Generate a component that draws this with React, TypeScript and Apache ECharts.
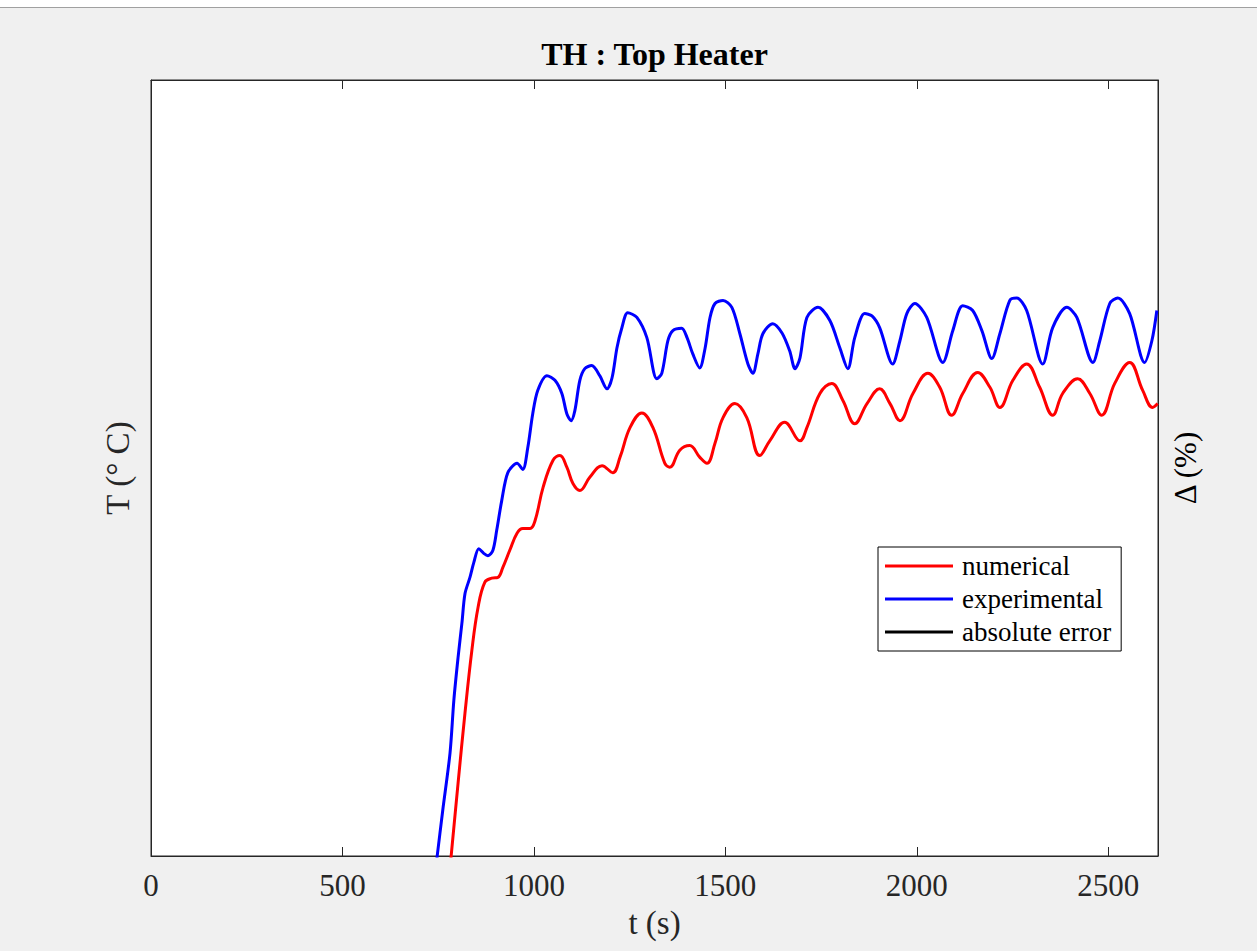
import React, { useEffect, useRef } from "react";
import * as echarts from "echarts";

const titleText = "TH : Top Heater";
const xTicks = { min: 0, max: 2630, interval: 500 };
const yRange = { min: 0, max: 100 };

const numerical: [number, number][] = [
  [782, -1], [802, 9.4], [820, 18.4], [838, 26.5], [854, 32.0], [872, 35.3], [890, 35.8], [906, 35.9],
  [919, 37.2], [937, 39.4], [956, 41.6], [971, 42.2], [990, 42.2], [1003, 43.2], [1024, 47.5], [1050, 51.0],
  [1068, 51.6], [1086, 50.1], [1102, 48.0], [1120, 47.1], [1146, 48.8], [1178, 50.3], [1206, 49.4], [1225, 51.4],
  [1251, 55.2], [1282, 57.1], [1311, 55.2], [1342, 50.6], [1355, 50.1], [1381, 52.3], [1407, 52.9], [1433, 51.4],
  [1452, 50.6], [1473, 53.2], [1494, 56.5], [1525, 58.3], [1556, 56.5], [1590, 51.6], [1616, 53.5], [1655, 55.9],
  [1695, 53.5], [1713, 55.2], [1747, 59.6], [1778, 60.9], [1807, 58.7], [1838, 55.7], [1870, 58.3], [1903, 60.2],
  [1930, 58.3], [1956, 56.1], [1990, 59.6], [2029, 62.2], [2060, 60.4], [2091, 56.8], [2120, 59.6], [2159, 62.3],
  [2191, 60.4], [2217, 57.8], [2251, 61.3], [2287, 63.4], [2321, 60.4], [2355, 56.8], [2381, 59.6], [2420, 61.5],
  [2452, 59.6], [2483, 56.8], [2517, 60.9], [2556, 63.6], [2590, 60.0], [2616, 57.8], [2629, 58.3],
];

const experimental: [number, number][] = [
  [745, -1], [762, 5.9], [781, 13.3], [791, 20.1], [802, 25.6], [812, 30.0], [820, 33.8], [833, 35.9],
  [843, 37.8], [856, 39.6], [869, 39.0], [880, 38.7], [893, 39.4], [903, 42.0], [916, 45.8], [932, 49.4],
  [956, 50.6], [971, 49.8], [984, 52.6], [997, 57.0], [1010, 60.0], [1034, 61.9], [1055, 61.3], [1073, 59.6],
  [1086, 57.0], [1097, 56.1], [1107, 57.4], [1120, 61.3], [1133, 62.8], [1151, 63.2], [1172, 61.9], [1191, 60.2],
  [1204, 61.6], [1217, 65.5], [1230, 68.1], [1245, 70.0], [1269, 69.4], [1295, 66.8], [1321, 61.5], [1334, 62.2],
  [1350, 66.4], [1363, 67.7], [1386, 68.0], [1400, 66.8], [1415, 64.7], [1433, 62.9], [1447, 65.4], [1460, 69.4],
  [1473, 71.2], [1494, 71.6], [1517, 70.7], [1538, 67.3], [1559, 63.4], [1572, 62.2], [1585, 64.7], [1598, 67.3],
  [1624, 68.6], [1648, 67.4], [1668, 65.1], [1682, 62.8], [1695, 64.2], [1713, 69.4], [1742, 70.7], [1773, 69.0],
  [1799, 65.5], [1820, 62.8], [1838, 66.8], [1864, 69.9], [1883, 69.6], [1903, 68.1], [1937, 63.4], [1956, 66.4],
  [1974, 69.9], [1995, 71.2], [2026, 69.4], [2068, 63.6], [2094, 67.7], [2120, 70.9], [2146, 70.3], [2170, 67.7],
  [2196, 64.1], [2217, 67.3], [2243, 71.6], [2261, 71.9], [2287, 70.3], [2329, 63.4], [2355, 68.1], [2392, 70.7],
  [2418, 69.4], [2460, 63.6], [2478, 66.4], [2504, 71.2], [2525, 71.9], [2556, 69.9], [2595, 63.6], [2614, 66.4],
  [2627, 70.3],
];

const absoluteError: [number, number][] = [];

const FONT = '"Liberation Serif", "DejaVu Serif", serif';
const AXIS_COLOR = "#262626";

export default function App() {
  const ref = useRef<HTMLDivElement>(null);
  useEffect(() => {
    if (!ref.current) return;
    const chart = echarts.init(ref.current, undefined, { renderer: "svg" });
    const axisLine = { show: true, onZero: false, lineStyle: { color: AXIS_COLOR, width: 1 } };
    chart.setOption({
      animation: false,
      backgroundColor: "transparent",
      textStyle: { fontFamily: FONT },
      grid: {
        left: 151, right: 99, top: 80, bottom: 95, containLabel: false,
        show: true, backgroundColor: "#ffffff", borderColor: AXIS_COLOR, borderWidth: 1,
      },
      graphic: [
        {
          type: "text",
          x: 654.5,
          y: 54,
          style: {
            text: titleText,
            font: `bold 32px ${FONT}`,
            fill: "#000",
            textAlign: "center",
            textVerticalAlign: "middle",
          },
        },
      ],
      legend: {
        orient: "vertical",
        left: 878,
        top: 547,
        padding: [5, 10, 5, 7],
        itemGap: 5,
        itemWidth: 68,
        itemHeight: 3,
        icon: "rect",
        backgroundColor: "#fff",
        borderColor: "#000",
        borderWidth: 1,
        borderRadius: 0,
        textStyle: { fontFamily: FONT, fontSize: 27, color: "#000", lineHeight: 28, padding: [0, 0, 0, 4] },
        data: ["numerical", "experimental", "absolute error"],
      },
      xAxis: [
        {
          type: "value",
          min: xTicks.min,
          max: xTicks.max,
          interval: xTicks.interval,
          position: "bottom",
          name: "t (s)",
          nameLocation: "middle",
          nameGap: 50,
          nameTextStyle: { fontFamily: FONT, fontSize: 33, color: AXIS_COLOR },
          axisLine,
          axisTick: { show: true, inside: true, length: 9, lineStyle: { color: AXIS_COLOR } },
          axisLabel: {
            fontFamily: FONT, fontSize: 31, color: AXIS_COLOR, margin: 14, showMaxLabel: false,
            formatter: (v: number) => String(v),
          },
          splitLine: { show: false },
        },
        {
          type: "value",
          min: xTicks.min,
          max: xTicks.max,
          interval: xTicks.interval,
          position: "top",
          axisLine,
          axisTick: { show: true, inside: true, length: 9, lineStyle: { color: AXIS_COLOR } },
          axisLabel: { show: false },
          splitLine: { show: false },
        },
      ],
      yAxis: [
        {
          type: "value",
          min: yRange.min,
          max: yRange.max,
          position: "left",
          name: "T (° C)",
          nameLocation: "middle",
          nameRotate: 90,
          nameGap: 17,
          nameTextStyle: { fontFamily: FONT, fontSize: 33, color: AXIS_COLOR },
          axisLine,
          axisTick: { show: false },
          axisLabel: { show: false },
          splitLine: { show: false },
        },
        {
          type: "value",
          min: yRange.min,
          max: yRange.max,
          position: "right",
          name: "Δ (%)",
          nameLocation: "middle",
          nameRotate: 90,
          nameGap: 12,
          nameTextStyle: { fontFamily: FONT, fontSize: 31, color: "#000" },
          axisLine,
          axisTick: { show: false },
          axisLabel: { show: false },
          splitLine: { show: false },
        },
      ],
      series: [
        {
          name: "numerical",
          type: "line",
          data: numerical,
          xAxisIndex: 0,
          yAxisIndex: 0,
          symbol: "none",
          smooth: 0.4,
          clip: true,
          lineStyle: { color: "#ff0000", width: 3 },
          itemStyle: { color: "#ff0000" },
        },
        {
          name: "experimental",
          type: "line",
          data: experimental,
          xAxisIndex: 0,
          yAxisIndex: 0,
          symbol: "none",
          smooth: 0.3,
          clip: true,
          lineStyle: { color: "#0000ff", width: 3 },
          itemStyle: { color: "#0000ff" },
        },
        {
          name: "absolute error",
          type: "line",
          data: absoluteError,
          xAxisIndex: 0,
          yAxisIndex: 1,
          symbol: "none",
          clip: true,
          lineStyle: { color: "#000000", width: 3 },
          itemStyle: { color: "#000000" },
        },
      ],
    });
    return () => chart.dispose();
  }, []);

  return (
    <div style={{ position: "absolute", left: 0, top: 0, width: 1257, height: 951, background: "#f0f0f0", overflow: "hidden" }}>
      <div style={{ position: "absolute", left: 0, top: 0, width: 1257, height: 7, background: "#ffffff", borderBottom: "1px solid #a0a0a0" }} />
      <div ref={ref} style={{ position: "absolute", left: 0, top: 0, width: 1257, height: 951 }} />
    </div>
  );
}
